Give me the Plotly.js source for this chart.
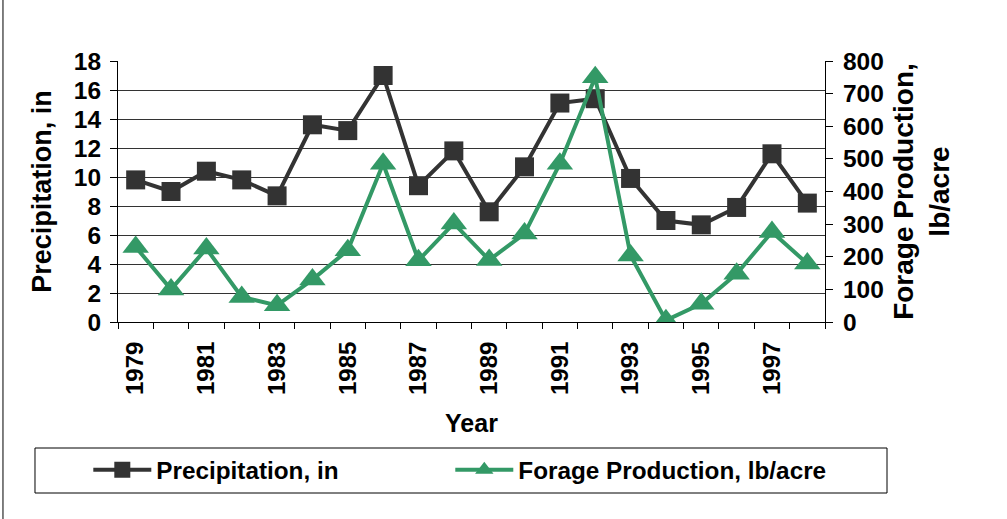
<!DOCTYPE html>
<html>
<head>
<meta charset="utf-8">
<script src="https://cdn.plot.ly/plotly-3.0.1.min.js"></script>
<style>html,body{margin:0;padding:0;background:#fff;}#chart{width:1007px;height:519px;}</style>
</head>
<body>
<div id="chart"></div>
<script>
const years = ['1979','1980','1981','1982','1983','1984','1985','1986','1987','1988','1989','1990','1991','1992','1993','1994','1995','1996','1997','1998'];
const precipitation = [9.8, 9.0, 10.4, 9.8, 8.7, 13.6, 13.2, 17.0, 9.4, 11.8, 7.6, 10.7, 15.1, 15.4, 9.9, 7.0, 6.7, 7.9, 11.6, 8.2];
const forage = [230, 100, 225, 77, 51, 130, 220, 485, 189, 302, 190, 271, 485, 750, 204, 5, 56, 148, 276, 179];
const yearLabels = ['1979','','1981','','1983','','1985','','1987','','1989','','1991','','1993','','1995','','1997',''];

const FONT = 'Liberation Sans, Arial, sans-serif';
const DARK = '#333333';
const GREEN = '#339966';

const traces = [
  {
    x: years, y: precipitation, name: 'Precipitation, in', type: 'scatter', mode: 'lines+markers',
    line: {color: DARK, width: 4},
    marker: {symbol: 'square', size: 19, color: DARK, line: {width: 0}},
    yaxis: 'y', legend: 'legend'
  },
  {
    x: years, y: forage, name: 'Forage Production, lb/acre', type: 'scatter', mode: 'lines+markers',
    line: {color: GREEN, width: 4},
    marker: {symbol: 'triangle-up', size: 23, color: GREEN, line: {width: 0}},
    yaxis: 'y2', legend: 'legend2'
  }
];

const legendCommon = {
  orientation: 'h', xanchor: 'left', y: -0.567, yanchor: 'middle',
  bgcolor: 'rgba(0,0,0,0)', borderwidth: 0,
  font: {size: 24.3}, itemwidth: 58
};

const layout = {
  width: 1007, height: 519,
  margin: {l: 118, r: 182, t: 61, b: 197, pad: 0},
  paper_bgcolor: '#fff', plot_bgcolor: '#fff',
  font: {family: FONT, size: 24, color: '#000', weight: 'bold'},
  showlegend: true,
  xaxis: {
    type: 'category', range: [-0.5, 19.5],
    tickmode: 'array', tickvals: years, ticktext: yearLabels,
    tickson: 'boundaries', ticks: 'outside', ticklen: 6, tickcolor: '#000',
    tickangle: -90, tickfont: {size: 24}, ticklabelstandoff: 9,
    showline: true, linecolor: '#000', linewidth: 1, showgrid: false, zeroline: false,
    title: {text: 'Year', font: {size: 25}, standoff: 20},
    automargin: false
  },
  yaxis: {
    range: [0, 18], dtick: 2, tick0: 0,
    ticks: 'outside', ticklen: 7, tickcolor: '#000',
    showline: true, linecolor: '#000', linewidth: 1,
    showgrid: true, gridcolor: '#333', gridwidth: 1, zeroline: false,
    tickfont: {size: 24.5}, ticklabelstandoff: 4,
    title: {text: 'Precipitation, in', font: {size: 27}, standoff: 14},
    automargin: false
  },
  yaxis2: {
    overlaying: 'y', side: 'right', range: [0, 800], dtick: 100, tick0: 0,
    ticks: 'outside', ticklen: 7, tickcolor: '#000',
    showline: true, linecolor: '#000', linewidth: 1,
    showgrid: false, zeroline: false,
    tickfont: {size: 24.5}, ticklabelstandoff: 5,
    title: {text: 'Forage Production,<br>lb/acre', font: {size: 28}, standoff: 10},
    automargin: false
  },
  legend: Object.assign({}, legendCommon, {x: -0.042}),
  legend2: Object.assign({}, legendCommon, {x: 0.470}),
  shapes: [
    {type: 'line', xref: 'paper', yref: 'paper', x0: -0.1627, x1: -0.1627, y0: -0.7548, y1: 1.2337, line: {color: '#000', width: 1}},
    {type: 'rect', xref: 'paper', yref: 'paper', x0: -0.1174, x1: 1.0877, y0: -0.6552, y1: -0.4828, line: {color: '#000', width: 1}, fillcolor: 'rgba(0,0,0,0)'}
  ]
};

Plotly.newPlot('chart', traces, layout, {displayModeBar: false, staticPlot: true});
</script>
</body>
</html>
